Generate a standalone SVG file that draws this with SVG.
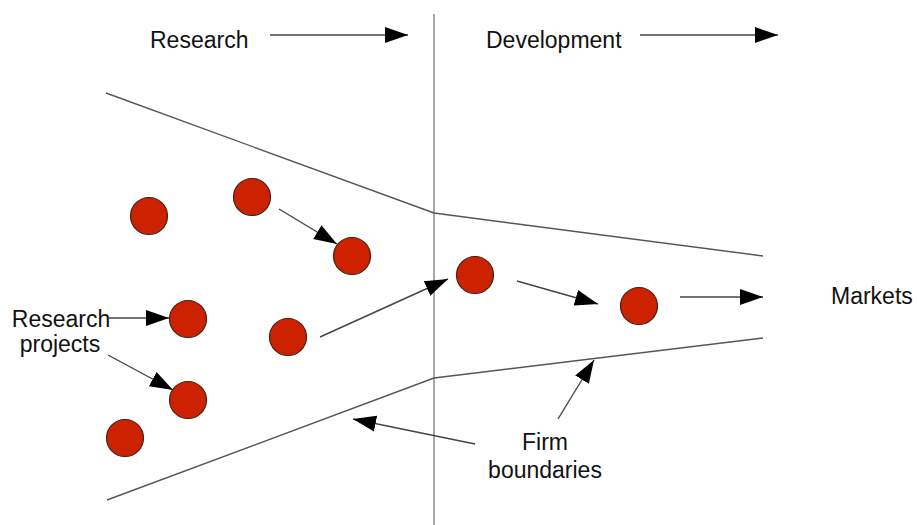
<svg xmlns="http://www.w3.org/2000/svg" width="917" height="525" viewBox="0 0 917 525">
  <style>
    .label { font-family: "Liberation Sans", Arial, Helvetica, sans-serif; font-size: 23px; fill: #111; }
    .bound { fill: none; stroke: #555; stroke-width: 1.4; }
    .divider { fill: none; stroke: #a8a8a8; stroke-width: 2; }
    .arrow { fill: none; stroke: #444; stroke-width: 1.4; marker-end: url(#head); }
    .project { fill: #cc2200; stroke: #4a1f16; stroke-width: 1.2; }
  </style>
  <defs>
    <marker id="head" markerUnits="userSpaceOnUse" markerWidth="24" markerHeight="18" viewBox="0 0 24 18" refX="23" refY="9" orient="auto">
      <path d="M0,1 L23,9 L0,17 Z" fill="#000"/>
    </marker>
  </defs>

  <!-- research / development divide -->
  <line class="divider" x1="434" y1="14" x2="434" y2="525"/>

  <!-- firm boundary funnel -->
  <g id="firm-boundary">
    <polyline class="bound" points="106,93 434,213 763,256"/>
    <polyline class="bound" points="107,500 434,378 763,338"/>
  </g>

  <!-- headings -->
  <g id="heading-research">
    <text class="label" x="150" y="48">Research</text>
  </g>
  <g id="heading-development">
    <text class="label" x="486" y="48">Development</text>
  </g>
  <g id="label-markets">
    <text class="label" x="831" y="304">Markets</text>
  </g>
  <g id="label-research-projects">
    <text class="label" x="61" y="327" text-anchor="middle">Research</text>
    <text class="label" x="60" y="352" text-anchor="middle">projects</text>
  </g>
  <g id="label-firm-boundaries">
    <text class="label" x="545" y="450" text-anchor="middle">Firm</text>
    <text class="label" x="545" y="478" text-anchor="middle">boundaries</text>
  </g>

  <!-- projects -->
  <g id="p1"><circle class="project" cx="149" cy="216" r="18.5"/></g>
  <g id="p2"><circle class="project" cx="252" cy="197" r="18.5"/></g>
  <g id="p3"><circle class="project" cx="352" cy="256" r="18.5"/></g>
  <g id="p4"><circle class="project" cx="188" cy="319" r="18.5"/></g>
  <g id="p5"><circle class="project" cx="288" cy="337" r="18.5"/></g>
  <g id="p6"><circle class="project" cx="188" cy="400" r="18.5"/></g>
  <g id="p7"><circle class="project" cx="125" cy="438" r="18.5"/></g>
  <g id="p8"><circle class="project" cx="475" cy="275" r="18.5"/></g>
  <g id="p9"><circle class="project" cx="639" cy="306" r="18.5"/></g>

  <!-- connectors -->
  <g id="connectors">
    <line class="arrow" x1="270" y1="35" x2="408" y2="35"/>
    <line class="arrow" x1="640" y1="35" x2="778" y2="35"/>
    <line class="arrow" x1="279" y1="209" x2="337" y2="244"/>
    <line class="arrow" x1="108" y1="318" x2="169" y2="318"/>
    <line class="arrow" x1="108" y1="355" x2="173" y2="390"/>
    <line class="arrow" x1="320" y1="337" x2="448" y2="279"/>
    <line class="arrow" x1="517" y1="281" x2="598" y2="304"/>
    <line class="arrow" x1="680" y1="297" x2="763" y2="297"/>
    <line class="arrow" x1="475" y1="444" x2="353" y2="419"/>
    <line class="arrow" x1="558" y1="419" x2="594" y2="360"/>
  </g>
</svg>
